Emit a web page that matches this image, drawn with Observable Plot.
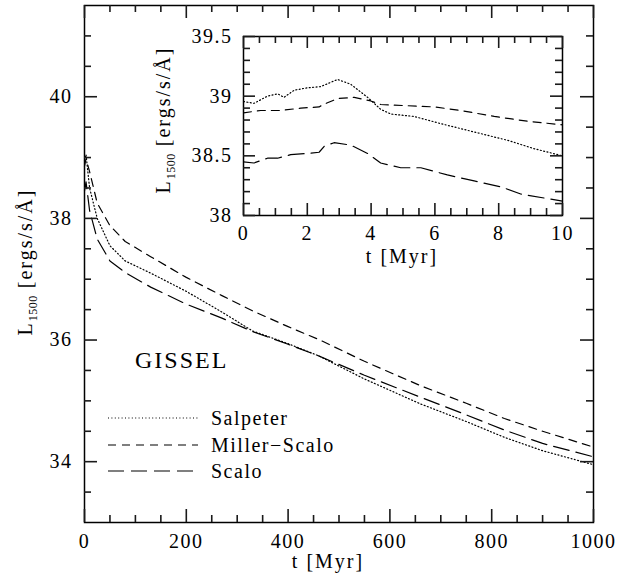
<!DOCTYPE html>
<html><head><meta charset="utf-8">
<script src="https://cdn.jsdelivr.net/npm/d3@7"></script>
<script src="https://cdn.jsdelivr.net/npm/@observablehq/plot@0.6"></script>
<style>
html,body{margin:0;padding:0;background:#fff;}
#wrap{position:relative;width:626px;height:582px;overflow:hidden;}
#wrap svg{position:absolute;left:0;top:0;}
</style></head><body><div id="wrap"></div>
<script>
// ---------- data ----------
const seriesNames = ["Salpeter", "Miller-Scalo", "Scalo"];

// main panel: t [Myr], L1500 (log)
const mainT = [0, 3, 10, 25, 50, 80, 130, 200, 270, 330, 400, 460, 550, 660, 750, 825, 900, 1000];
const mainSalpeter = [38.95, 39.05, 38.5, 38.0, 37.55, 37.3, 37.1, 36.8, 36.46, 36.15, 35.94, 35.74, 35.36, 34.95, 34.66, 34.4, 34.18, 33.95];
const mainMillerScalo = [38.86, 38.98, 38.77, 38.25, 37.88, 37.62, 37.37, 37.03, 36.73, 36.48, 36.22, 36.01, 35.65, 35.25, 34.96, 34.71, 34.5, 34.24];
const mainScalo = [38.45, 38.6, 38.13, 37.66, 37.3, 37.11, 36.87, 36.59, 36.36, 36.14, 35.93, 35.74, 35.42, 35.06, 34.77, 34.52, 34.3, 34.08];

// inset panel: first 10 Myr
const insetSalpeterT = [0, 0.33, 0.75, 1.07, 1.27, 1.59, 2.0, 2.42, 2.95, 3.36, 3.89, 4.3, 4.62, 5.35, 6.18, 7.23, 8.28, 9.11, 10];
const insetSalpeterL = [38.955, 38.94, 39.0, 39.02, 38.99, 39.05, 39.07, 39.08, 39.14, 39.10, 38.99, 38.89, 38.85, 38.83, 38.77, 38.70, 38.63, 38.56, 38.50];
const insetMillerScaloT = [0, 0.54, 1.17, 1.8, 2.37, 2.5, 2.95, 3.47, 3.99, 4.3, 5.14, 5.97, 6.81, 7.86, 8.9, 10];
const insetMillerScaloL = [38.86, 38.88, 38.88, 38.9, 38.91, 38.93, 38.98, 38.99, 38.96, 38.93, 38.92, 38.91, 38.88, 38.83, 38.79, 38.76];
const insetScaloT = [0, 0.33, 0.75, 1.07, 1.48, 2.0, 2.37, 2.53, 2.84, 3.36, 3.89, 4.3, 4.93, 5.56, 6.39, 7.23, 8.07, 8.69, 10];
const insetScaloL = [38.45, 38.44, 38.48, 38.48, 38.51, 38.52, 38.53, 38.58, 38.61, 38.59, 38.52, 38.44, 38.40, 38.40, 38.34, 38.29, 38.24, 38.18, 38.12];

// tick values
const mainXTicks = [0, 200, 400, 600, 800, 1000];
const mainYTicks = [34, 36, 38, 40];
const insetXTicks = [0, 2, 4, 6, 8, 10];
const insetYTicks = [38, 38.5, 39, 39.5];

// ---------- styles ----------
const dashes = {"Salpeter": "1,2.4", "Miller-Scalo": "8,6", "Scalo": "16,7"};
const FONT = "'Liberation Serif', serif";
const TICK = "#1a1a1a";

const mainRows = [
  ...mainT.map((t, i) => ({series: "Salpeter", t, L: mainSalpeter[i]})),
  ...mainT.map((t, i) => ({series: "Miller-Scalo", t, L: mainMillerScalo[i]})),
  ...mainT.map((t, i) => ({series: "Scalo", t, L: mainScalo[i]}))
];
const insetRows = [
  ...insetSalpeterT.map((t, i) => ({series: "Salpeter", t, L: insetSalpeterL[i]})),
  ...insetMillerScaloT.map((t, i) => ({series: "Miller-Scalo", t, L: insetMillerScaloL[i]})),
  ...insetScaloT.map((t, i) => ({series: "Scalo", t, L: insetScaloL[i]}))
];

function range(a, b, s) { const out = []; for (let v = a; v <= b + 1e-9; v += s) out.push(+v.toFixed(4)); return out; }
function minorOf(all, major) { return all.filter(v => !major.some(m => Math.abs(m - v) < 1e-6)); }

// inward ticks on all four sides; W,H = inner frame size in px
function tickMarks(W, H, xMaj, xMin, yMaj, yMin, big, small) {
  const m = [];
  const o = {stroke: TICK, strokeWidth: 1.6, strokeOpacity: 1};
  for (const [vals, len] of [[xMaj, big], [xMin, small]]) {
    m.push(Plot.tickX(vals, {x: d => d, insetTop: H - len, ...o}));
    m.push(Plot.tickX(vals, {x: d => d, insetBottom: H - len, ...o}));
  }
  for (const [vals, len] of [[yMaj, big], [yMin, small]]) {
    m.push(Plot.tickY(vals, {y: d => d, insetRight: W - len, ...o}));
    m.push(Plot.tickY(vals, {y: d => d, insetLeft: W - len, ...o}));
  }
  return m;
}

function seriesLines(rows) {
  return seriesNames.map(name => Plot.line(rows.filter(r => r.series === name), {
    x: "t", y: "L", stroke: "black", strokeWidth: 1.2, strokeDasharray: dashes[name]
  }));
}

const svgStyle = `font-family:${FONT};font-size:20px;letter-spacing:1.5px;background:transparent;overflow:visible;`;

// ---------- main plot ----------
const M = {width: 626, height: 582, left: 84, right: 33, top: 5, bottom: 60};
const MW = M.width - M.left - M.right, MH = M.height - M.top - M.bottom;
const main = Plot.plot({
  width: M.width, height: M.height,
  marginLeft: M.left, marginRight: M.right, marginTop: M.top, marginBottom: M.bottom,
  style: svgStyle,
  x: {domain: [0, 1000]},
  y: {domain: [33, 41.5]},
  marks: [
    Plot.frame({stroke: "black", strokeWidth: 1.5}),
    ...seriesLines(mainRows),
    ...tickMarks(MW, MH, mainXTicks, minorOf(range(0, 1000, 50), mainXTicks),
                 mainYTicks, minorOf(range(33.5, 41, 0.5), mainYTicks), 13, 7),
    Plot.axisX(mainXTicks, {anchor: "bottom", tickSize: 0, tickPadding: 11, label: null, tickFormat: d => String(d)}),
    Plot.axisY(mainYTicks, {anchor: "left", tickSize: 0, tickPadding: 12, label: null, tickFormat: d => String(d)})
  ]
});

// ---------- inset plot ----------
const I = {width: 626, height: 300, left: 243, right: 64, top: 36, bottom: 85};
const IW = I.width - I.left - I.right, IH = I.height - I.top - I.bottom;
const inset = Plot.plot({
  width: I.width, height: I.height,
  marginLeft: I.left, marginRight: I.right, marginTop: I.top, marginBottom: I.bottom,
  style: svgStyle,
  x: {domain: [0, 10]},
  y: {domain: [38, 39.5]},
  marks: [
    Plot.frame({stroke: "black", strokeWidth: 1.5}),
    ...seriesLines(insetRows),
    ...tickMarks(IW, IH, insetXTicks, minorOf(range(0, 10, 0.5), insetXTicks),
                 insetYTicks, minorOf(range(38, 39.5, 0.1), insetYTicks), 12, 7),
    Plot.axisX(insetXTicks, {anchor: "bottom", tickSize: 0, tickPadding: 10, label: null, tickFormat: d => String(d)}),
    Plot.axisY(insetYTicks, {anchor: "left", tickSize: 0, tickPadding: 11, label: null, tickFormat: d => String(d)})
  ]
});

const wrap = document.getElementById("wrap");
wrap.appendChild(main);
wrap.appendChild(inset);

// ---------- text labels ----------
function yLabel(svg, x, y) {
  const t = d3.select(svg).append("text")
    .attr("transform", `translate(${x},${y}) rotate(-90)`)
    .attr("text-anchor", "middle")
    .attr("font-size", 20).attr("letter-spacing", "2px").attr("fill", "black");
  t.append("tspan").text("L");
  t.append("tspan").attr("font-size", 12).attr("letter-spacing", "0.5px").attr("dy", 5).text("1500");
  t.append("tspan").attr("dy", -5).text(" [ergs/s/Å]");
}
function xLabel(svg, x, y) {
  d3.select(svg).append("text").attr("x", x).attr("y", y)
    .attr("text-anchor", "middle").attr("font-size", 20).attr("letter-spacing", "2px")
    .attr("fill", "black").text("t [Myr]");
}
yLabel(main, 32, 262);
xLabel(main, 328, 568);
yLabel(inset, 170, 120);
xLabel(inset, 402, 263);

// GISSEL + legend
const ms = d3.select(main);
ms.append("text").attr("x", 135).attr("y", 368).attr("font-size", 24).attr("text-anchor", "start")
  .attr("letter-spacing", "2px").attr("fill", "black").text("GISSEL");
const legendY = [418, 445, 471];
seriesNames.forEach((name, i) => {
  ms.append("line").attr("x1", 108).attr("x2", 198).attr("y1", legendY[i]).attr("y2", legendY[i])
    .attr("stroke", "black").attr("stroke-width", 1.2).attr("stroke-dasharray", dashes[name]);
  ms.append("text").attr("x", 211).attr("y", legendY[i] + 7).attr("font-size", 20).attr("text-anchor", "start")
    .attr("letter-spacing", "1.5px").attr("fill", "black").text(name === "Miller-Scalo" ? "Miller−Scalo" : name);
});
</script>
</body></html>
